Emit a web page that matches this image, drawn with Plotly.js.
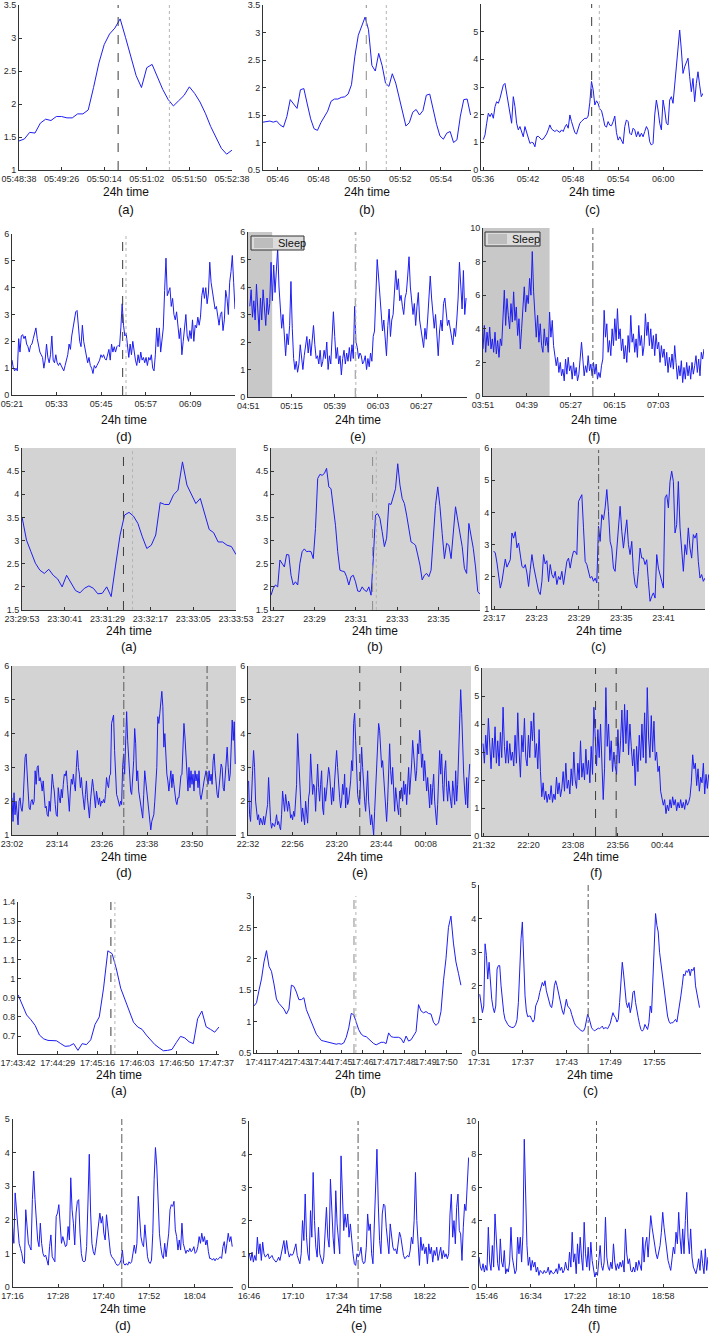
<!DOCTYPE html>
<html><head><meta charset="utf-8">
<script src="https://cdn.plot.ly/plotly-3.0.1.min.js"></script>
<style>html,body{margin:0;padding:0;background:#fff;}#chart{width:709px;height:1333px;}</style>
</head><body><div id="chart"></div>
<script>
// ---------------- DATA (times in minutes since midnight) ----------------
// Row 1
const r1a_ticks=['05:48:38','05:49:26','05:50:14','05:51:02','05:51:50','05:52:38'];
const r1a_range=[348.633,352.634];
const r1a_span=[348.6333,352.6333];
const r1a_events=[350.495,351.458];
const r1a_vals=[1.44,1.47,1.57,1.56,1.71,1.77,1.75,1.81,1.81,1.79,1.79,1.85,1.85,1.91,2.25,2.62,2.90,3.06,3.15,3.29,3.01,2.73,2.43,2.25,2.55,2.60,2.41,2.22,2.07,1.97,2.05,2.13,2.26,2.16,2.03,1.86,1.66,1.49,1.33,1.24,1.30];

const r1b_ticks=['05:46','05:48','05:50','05:52','05:54'];
const r1b_range=[345.28,355.47];
const r1b_span=[345.28,355.45];
const r1b_events=[350.34,351.32];
const r1b_vals=[1.37,1.38,1.39,1.37,1.39,1.32,1.28,1.47,1.78,1.70,1.62,1.96,1.98,1.70,1.43,1.25,1.22,1.36,1.47,1.57,1.75,1.79,1.79,1.82,1.83,1.88,2.05,2.57,2.95,3.12,3.28,3.05,2.40,2.30,2.62,2.40,2.08,2.02,2.25,2.08,1.83,1.58,1.30,1.36,1.55,1.60,1.50,1.58,1.86,1.88,1.60,1.33,1.12,1.06,1.17,1.20,1.00,1.05,1.48,1.78,1.79,1.50];

const r1c_ticks=['05:36','05:42','05:48','05:54','06:00'];
const r1c_range=[335.73,365.3];
const r1c_span=[336.04,365.3];
const r1c_events=[350.47,351.49];
const r1c_vals=[1.10,1.27,1.69,2.05,1.93,2.05,1.87,2.29,2.47,2.41,2.59,2.89,3.07,3.13,2.77,2.29,2.05,1.69,2.65,2.29,1.69,1.45,1.57,1.33,1.20,1.57,1.33,1.20,
0.96,1.00,0.98,0.84,1.20,1.22,1.14,1.10,1.12,1.20,1.30,1.45,1.63,1.48,1.42,1.39,1.44,1.40,1.36,1.45,1.39,1.55,1.65,1.51,1.99,1.75,1.57,1.35,1.30,1.51,1.69,1.76,1.83,1.87,1.86,1.95,2.45,3.20,2.90,2.35,2.50,2.40,2.20,2.15,1.90,1.60,1.55,1.75,1.62,1.60,1.75,1.95,1.35,1.08,1.20,1.10,0.95,1.57,1.81,1.75,1.33,1.27,1.51,1.45,1.20,1.39,1.20,1.33,1.20,1.39,1.57,1.45,1.02,0.90,0.96,1.99,2.53,2.17,1.69,1.45,2.53,2.17,1.69,1.63,2.53,2.65,2.41,3.07,3.73,4.22,5.06,4.34,3.49,3.73,3.92,4.04,3.37,2.83,3.31,2.47,3.13,3.55,3.07,2.65,2.77];

// Row 2
const r2d_ticks=['05:21','05:33','05:45','05:57','06:09'];
const r2d_range=[321,381.05];
const r2d_span=[321,381.05];
const r2d_events=[350.8,351.7];
const r2d_vals=[1.3,1.0,0.9,1.0,0.9,2.1,1.6,2.2,2.25,2.1,2.2,1.9,1.8,1.6,1.85,1.9,2.1,2.3,2.5,2.1,1.8,1.6,1.5,1.4,1.0,1.3,1.9,1.4,1.2,1.5,2.2,1.3,1.2,1.5,1.2,1.1,1.2,1.1,1.0,0.9,1.1,1.3,1.5,1.9,1.7,2.2,2.5,2.8,3.1,3.15,2.5,2.0,1.8,2.6,2.0,1.7,1.5,1.2,1.4,1.1,1.0,0.8,1.1,1.0,1.1,1.2,1.3,1.5,1.4,1.5,1.35,1.3,1.5,1.7,1.3,1.9,1.6,1.8,1.6,1.8,1.85,1.8,2.5,3.4,2.6,2.2,2.3,1.7,1.4,1.9,1.5,2.0,1.6,1.3,1.1,1.5,1.2,1.6,1.3,1.4,1.2,1.4,1.1,1.4,1.3,1.5,1.0,0.9,1.5,2.5,1.8,2.5,1.6,2.0,2.5,3.9,5.1,3.7,3.9,4.0,3.3,3.6,3.0,2.8,3.1,2.6,2.1,2.5,1.5,2.0,2.6,3.0,2.2,2.0,2.4,2.1,2.8,2.0,2.6,2.5,2.9,2.6,2.9,3.7,4.0,3.6,4.0,3.4,3.8,4.95,4.2,3.8,3.5,3.2,3.3,3.0,2.6,3.0,3.1,2.4,2.8,3.9,3.6,3.0,4.2,4.6,5.2,4.2,3.2];

const r2e_ticks=['04:51','05:15','05:39','06:03','06:27'];
const r2e_range=[290.9,412.4];
const r2e_span=[291.9,411.9];
const r2e_sleep=[290.9,304.3];
const r2e_events=[350.4,350.75];
const r2e_vals=[3.3,3.9,2.9,3.5,2.8,4.1,3.2,2.4,3.6,2.8,3.9,3.1,2.6,3.6,3.0,3.4,4.9,3.5,4.8,3.8,4.6,5.4,4.0,3.3,2.5,3.0,2.2,1.5,2.3,1.9,2.6,4.2,2.5,1.4,1.0,1.3,0.9,1.2,1.9,1.3,1.0,1.5,1.8,2.2,1.6,2.1,1.5,2.0,2.6,1.9,1.4,1.5,1.2,1.7,1.1,1.3,1.7,1.4,2.0,1.0,1.5,1.2,2.0,3.1,2.2,1.4,1.8,1.2,1.5,0.8,1.4,1.7,1.2,1.6,1.3,1.8,1.3,1.9,1.4,3.3,2.0,1.8,1.4,1.6,1.5,1.2,1.3,1.5,1.0,1.4,1.1,1.6,1.3,2.2,2.4,3.8,5.0,4.4,3.8,3.0,2.4,2.8,2.1,1.5,2.6,3.2,2.2,2.8,3.0,3.9,4.6,3.9,4.3,3.5,3.7,3.3,3.0,3.6,3.8,4.4,5.1,4.0,3.6,3.0,3.4,2.6,3.3,3.8,2.8,2.5,2.2,1.8,2.5,2.1,2.8,3.5,4.4,3.6,3.0,2.5,3.0,2.3,1.5,2.4,2.8,2.4,3.4,3.6,3.2,2.6,2.8,2.5,2.2,1.9,2.5,2.2,2.8,3.6,4.9,4.0,3.2,4.6,3.0,3.6];

const r2f_ticks=['03:51','04:39','05:27','06:15','07:03'];
const r2f_range=[231,473];
const r2f_span=[231,473];
const r2f_sleep=[231,303.9];
const r2f_events=[351.3];
const r2f_vals=[2.8,4.2,2.6,3.8,3.0,4.1,2.8,3.4,2.6,3.8,2.5,3.3,2.3,3.4,3.0,4.5,6.3,4.2,5.8,4.8,4.0,5.5,4.4,6.2,4.5,5.3,3.6,4.6,2.8,4.0,5.5,6.5,5.0,6.0,5.5,7.0,6.0,8.6,6.2,5.0,3.5,4.8,3.2,4.3,3.0,2.6,4.0,3.0,3.5,2.6,5.0,3.5,4.5,3.0,2.5,1.8,2.3,1.4,2.0,1.2,1.6,0.9,2.2,1.3,2.3,1.5,1.8,1.0,2.0,1.2,1.7,0.9,1.3,2.2,3.2,2.2,1.2,1.8,1.4,2.4,1.5,1.9,1.2,2.0,1.3,1.9,1.0,1.4,1.1,1.8,2.2,5.1,3.5,4.3,2.6,3.3,2.4,4.0,3.0,4.6,3.3,5.2,3.4,4.0,2.7,3.4,2.2,3.0,2.0,3.6,2.6,4.8,3.2,3.7,2.6,3.4,2.3,4.2,3.0,3.6,2.4,3.0,4.9,3.6,4.4,3.0,4.0,2.8,3.6,2.4,3.7,2.8,3.2,2.0,3.0,2.3,2.8,1.8,2.6,1.4,2.3,1.7,2.5,1.6,3.0,2.0,1.0,1.8,1.2,2.1,0.8,1.7,1.0,2.0,1.2,1.8,1.0,2.0,1.3,1.8,2.4,1.4,2.2,1.2,2.6,2.2,2.8];

// Row 3
const r3a_ticks=['23:29:53','23:30:41','23:31:29','23:32:17','23:33:05','23:33:53'];
const r3a_range=[1409.883,1413.884];
const r3a_span=[1409.8833,1413.8833];
const r3a_events=[1411.78,1411.95];
const r3a_vals=[3.51,3.01,2.76,2.51,2.36,2.29,2.38,2.25,2.17,2.00,2.25,2.08,1.92,1.87,1.97,2.02,1.97,1.85,1.86,2.00,1.79,2.47,3.12,3.55,3.61,3.53,3.37,3.08,2.83,2.90,3.12,3.82,3.78,3.78,3.99,4.09,4.70,4.20,3.98,3.80,3.91,3.55,3.24,3.17,2.97,2.97,2.90,2.87,2.70];

const r3b_ticks=['23:27','23:29','23:31','23:33','23:35'];
const r3b_range=[1406.9,1417.0];
const r3b_span=[1406.9,1417.0];
const r3b_events=[1411.81,1411.99];
const r3b_vals=[1.82,1.97,2.04,2.0,2.58,2.51,2.43,2.70,2.69,2.25,2.04,2.11,2.04,2.51,2.76,2.82,2.76,2.77,2.76,2.61,3.26,4.34,4.43,4.41,4.45,4.56,4.16,4.12,3.76,3.33,2.76,2.36,2.34,2.33,2.22,2.04,2.22,
2.25,2.11,1.91,1.90,2.0,1.93,1.90,2.0,1.82,2.61,3.55,3.58,3.48,3.19,2.87,3.05,3.80,3.78,3.98,4.12,4.66,4.20,3.91,3.80,3.55,3.26,2.97,2.94,2.90,2.69,2.47,2.15,2.25,2.29,2.22,2.36,3.12,3.76,4.16,3.73,3.15,2.61,2.94,2.90,2.61,3.23,3.73,3.44,3.19,2.87,2.40,2.29,3.37,3.12,2.83,2.43,1.90,1.84];

const r3c_ticks=['23:17','23:23','23:29','23:35','23:41'];
const r3c_range=[1396.67,1426.9];
const r3c_span=[1396.9,1426.9];
const r3c_events=[1411.8];
const r3c_vals=[2.80,2.74,2.43,1.96,1.65,1.86,2.22,2.55,2.30,2.40,2.53,3.36,3.20,3.40,2.90,3.05,2.69,
2.33,2.27,2.38,2.12,1.70,2.22,2.69,2.33,2.07,1.76,1.55,1.45,1.86,2.69,2.40,
2.50,1.85,2.38,2.07,1.96,2.17,1.76,2.01,1.91,2.17,1.76,2.07,2.48,2.58,2.27,2.58,2.79,2.79,2.69,4.34,4.45,4.55,3.52,2.48,2.38,2.17,1.96,2.01,1.86,1.96,1.81,3.57,3.10,3.93,3.77,4.14,4.71,4.03,3.10,2.89,2.27,2.17,2.79,3.41,4.19,3.41,2.89,3.36,3.77,3.00,2.69,3.10,2.17,1.76,1.65,2.17,2.89,2.58,2.58,2.38,2.53,1.86,1.24,1.39,1.50,1.34,2.69,2.27,2.01,1.86,1.65,4.45,4.55,4.14,4.96,5.28,4.96,3.36,3.62,4.96,3.52,2.89,2.17,3.00,2.69,3.52,2.89,2.58,3.31,3.20,3.36,2.48,1.96,2.07,1.86,1.96];

// Row 4
const r4d_ticks=['23:02','23:14','23:26','23:38','23:50'];
const r4d_range=[1382,1441.7];
const r4d_span=[1382,1441.5];
const r4d_events=[1411.8,1434.0];
const r4d_vals=[2.1,1.4,2.25,1.6,2.0,1.5,1.3,2.0,2.1,1.8,1.7,2.0,2.8,3.3,3.4,2.6,2.3,1.8,1.75,2.0,2.05,1.9,2.0,2.9,2.5,3.0,3.05,2.6,2.7,2.55,2.3,2.6,2.0,1.8,1.85,1.6,1.55,2.0,1.7,2.3,2.8,2.5,2.3,1.9,1.6,1.55,2.4,2.1,1.95,2.35,2.1,2.5,2.8,2.75,2.9,2.5,2.15,1.7,2.3,2.65,2.5,2.8,2.5,2.3,3.0,3.5,3.0,2.8,2.4,2.7,2.3,2.0,1.75,2.2,2.6,2.1,1.65,1.5,2.0,2.3,2.65,2.4,2.0,1.8,2.3,2.0,1.9,2.1,1.85,2.0,1.95,2.05,1.95,2.2,2.7,2.5,2.4,2.75,2.8,4.3,4.5,4.55,3.5,2.5,2.2,2.1,2.0,1.85,2.0,1.9,3.0,3.4,2.8,3.9,4.65,3.8,3.4,2.8,2.3,2.2,2.6,3.2,4.15,3.7,2.6,2.9,2.3,2.1,1.9,1.7,1.5,2.2,2.9,2.6,2.3,2.0,1.75,1.3,1.15,1.4,1.5,1.6,2.0,2.6,3.0,4.5,4.3,4.6,4.9,5.25,4.8,3.6,4.0,3.1,2.8,2.6,2.3,2.6,2.9,2.4,2.8,2.5,2.2,2.0,1.9,2.1,2.1,2.4,2.75,2.8,3.8,4.3,3.9,3.2,2.6,2.3,3.0,2.4,2.9,2.5,2.8,2.3,2.9,2.6,2.8,2.4,2.9,2.2,2.05,2.3,2.4,2.6,2.75,2.9,2.7,2.5,2.9,2.6,2.8,2.5,3.2,3.4,2.9,2.5,2.2,2.1,2.4,2.8,3.1,3.0,2.4,2.3,2.8,3.3,3.6,3.0,2.6,2.8,3.7,4.4,3.8,4.35,3.1];

const r4e_ticks=['22:32','22:56','23:20','23:44','00:08'];
const r4e_range=[1352,1472.5];
const r4e_span=[1352.3,1471.8];
const r4e_events=[1412.4,1434.5];
const r4e_vals=[2.6,1.6,1.4,2.4,2.9,3.5,3.0,2.0,1.6,1.45,1.6,1.3,1.5,1.35,1.3,1.55,1.3,1.5,1.65,1.9,2.7,2.0,1.4,1.2,1.35,1.3,1.25,1.4,1.6,1.3,1.4,1.25,1.15,1.6,2.3,2.0,1.7,2.2,1.9,1.7,2.0,1.85,1.5,1.6,1.45,1.7,1.55,1.9,2.5,4.0,3.2,2.4,2.0,1.4,1.8,1.5,1.3,2.0,1.6,1.35,2.1,2.3,3.4,2.8,2.2,2.5,2.4,1.7,2.6,3.1,2.4,2.0,2.5,2.9,1.8,1.6,2.4,2.0,2.3,2.6,3.0,2.8,2.2,1.9,2.4,2.0,2.6,3.0,3.5,3.0,2.4,2.1,1.8,2.0,2.5,2.2,2.8,1.8,2.4,1.9,2.0,2.3,2.6,3.2,2.9,4.3,4.6,3.8,2.8,2.2,2.0,
1.9,2.8,3.6,3.0,2.4,2.0,1.7,2.4,2.9,2.0,1.5,1.3,1.6,1.2,1.0,1.7,2.4,2.9,3.3,4.3,4.1,3.6,3.0,3.2,2.7,2.4,1.9,1.4,2.0,2.8,3.7,2.9,2.5,3.0,2.0,1.7,2.4,2.0,1.8,1.6,2.3,2.1,2.4,2.0,2.6,2.2,2.5,1.9,2.6,3.0,2.2,2.6,3.1,3.8,3.4,3.3,2.6,2.9,3.7,3.4,4.1,3.7,3.0,3.4,2.6,3.2,2.8,2.3,2.7,2.1,1.8,2.5,1.9,2.4,2.8,2.0,1.6,1.3,1.9,2.6,3.5,2.8,3.4,2.5,2.0,2.9,3.2,2.4,2.0,2.6,2.2,2.0,1.8,2.6,2.3,1.9,2.9,2.0,2.5,3.3,4.2,5.3,4.6,3.5,2.8,2.3,1.9,2.7,1.8,2.6,3.1];

const r4f_ticks=['21:32','22:20','23:08','23:56','00:44'];
const r4f_range=[1290,1534.3];
const r4f_span=[1291.1,1534];
const r4f_events=[1412.2,1434.4];
const r4f_vals=[3.3,2.6,3.6,2.9,4.2,3.0,2.4,3.5,2.8,3.9,2.6,3.4,2.5,3.7,2.8,4.6,3.2,2.6,3.4,2.6,3.3,2.7,3.0,2.5,3.6,2.6,4.4,3.0,2.1,3.6,3.0,4.2,2.8,2.5,3.6,2.8,4.1,3.4,4.4,2.8,3.3,2.4,3.8,2.3,1.4,1.9,1.3,1.6,1.2,1.5,1.3,1.8,1.2,1.5,1.3,2.1,1.5,1.9,1.4,1.7,2.3,1.6,2.6,1.7,2.0,1.5,2.4,1.8,3.0,2.0,1.7,2.6,2.0,3.4,2.1,2.6,2.0,3.1,2.2,2.7,1.9,3.2,2.2,4.6,3.4,2.5,3.8,2.8,4.0,2.6,1.3,2.4,5.3,3.2,4.0,2.7,3.4,2.3,3.0,2.5,2.2,3.8,2.6,3.4,4.5,3.0,4.7,3.3,4.5,2.9,4.0,3.2,2.5,3.1,1.8,3.2,2.3,3.6,2.7,4.0,2.8,4.4,2.6,5.3,3.5,2.8,4.3,3.0,4.1,2.7,3.0,2.3,2.5,1.6,1.4,1.1,1.3,0.8,1.1,0.9,1.3,1.0,1.4,1.1,1.3,0.9,1.2,1.0,1.3,1.0,1.2,0.95,1.3,1.1,1.2,1.4,1.9,2.9,2.4,2.6,1.8,2.4,1.6,2.1,1.9,2.6,1.5,2.2,1.7,2.2];

// Row 5
const r5a_ticks=['17:43:42','17:44:29','17:45:16','17:46:03','17:46:50','17:47:37'];
const r5a_range=[1063.699,1067.667];
const r5a_span=[1063.7,1067.667];
const r5a_events=[1065.533,1065.612];
const r5a_vals=[0.915,0.858,0.81,0.785,0.755,0.705,0.685,0.677,0.677,0.675,0.66,0.646,0.648,0.66,0.625,0.66,0.655,0.68,0.76,0.80,0.95,1.145,1.13,1.05,0.95,0.89,0.825,0.772,0.747,0.735,0.705,0.682,0.655,0.638,0.623,0.625,0.63,0.665,0.698,0.69,0.67,0.66,0.79,0.83,0.748,0.735,0.72,0.747];

const r5b_ticks=['17:41','17:42','17:43','17:44','17:45','17:46','17:47','17:48','17:49','17:50'];
const r5b_range=[1060.87,1070.73];
const r5b_span=[1060.87,1070.68];
const r5b_events=[1065.61,1065.7];
const r5b_vals=[1.25,1.30,1.5,1.68,1.95,2.13,1.88,1.80,1.6,1.36,1.29,1.25,1.2,1.12,1.2,1.58,1.56,1.47,1.35,1.35,1.38,1.19,1.09,0.99,0.89,0.80,0.75,0.70,0.69,0.68,0.68,0.66,0.65,0.64,0.65,0.64,0.66,0.75,0.90,1.13,1.11,0.99,0.87,0.80,0.77,0.76,0.72,0.68,0.65,0.63,0.65,0.67,0.67,0.65,0.82,0.76,0.75,0.745,0.75,0.73,0.66,0.77,0.69,0.71,0.77,0.84,1.27,1.17,1.14,1.16,1.13,1.12,0.99,0.94,0.98,1.16,1.65,2.0,2.5,2.68,2.25,1.95,1.77,1.58];

const r5c_ticks=['17:31','17:37','17:43','17:49','17:55'];
const r5c_range=[1051,1081.4];
const r5c_span=[1051.1,1081.2];
const r5c_events=[1065.95];
const r5c_vals=[1.75,1.5,1.2,1.4,3.25,2.9,2.2,2.7,2.0,1.6,1.35,1.2,1.4,2.5,2.6,2.6,2.0,1.5,1.2,1.0,0.9,0.85,0.8,0.77,0.76,0.76,0.78,0.85,1.0,1.5,2.6,3.4,3.9,
2.5,1.7,1.25,1.08,1.1,1.1,1.0,0.92,1.0,1.4,1.5,1.6,1.8,2.0,2.1,2.0,2.15,1.85,1.72,1.6,1.4,1.35,1.6,2.0,2.15,2.0,1.8,1.6,1.4,1.25,1.15,1.35,1.6,1.4,1.35,1.3,1.15,1.0,0.9,0.82,0.78,0.72,0.69,0.67,0.65,0.66,0.75,0.95,1.15,1.05,0.85,0.75,0.7,0.66,0.68,0.71,0.74,0.72,0.78,0.8,0.72,0.75,0.75,0.72,0.8,0.88,1.05,1.2,1.1,1.05,0.92,1.0,1.5,2.0,2.7,2.35,1.8,
1.5,1.35,1.5,1.2,1.4,1.8,1.85,1.5,1.2,1.05,0.85,0.7,0.65,0.7,0.85,0.75,0.7,0.9,1.4,1.2,2.1,3.3,4.15,
3.8,3.6,3.0,2.7,2.4,2.0,1.65,1.35,1.1,0.95,0.88,0.9,0.9,0.95,1.0,0.92,1.15,1.5,1.7,2.0,2.35,2.3,2.45,2.4,2.5,2.3,2.5,2.45,2.55,2.0,1.75,1.5,1.35];

// Row 6
const r6d_ticks=['17:16','17:28','17:40','17:52','18:04'];
const r6d_range=[1036,1094.1];
const r6d_span=[1036,1093.9];
const r6d_events=[1064.8];
const r6d_vals=[1.8,1.3,2.8,2.2,1.6,1.3,1.15,1.0,0.75,0.7,2.3,1.8,1.3,1.2,1.1,2.6,3.45,2.6,1.8,1.4,1.2,1.9,1.3,1.0,0.9,0.95,0.8,0.65,1.2,1.55,0.9,0.8,0.75,2.1,2.2,2.45,1.9,1.3,1.5,1.3,1.2,1.25,1.8,1.4,3.25,2.3,1.9,1.25,2.2,2.55,2.6,1.6,1.0,0.78,0.75,0.78,1.2,2.5,3.95,2.2,1.3,1.05,0.95,1.2,1.5,1.9,2.2,1.9,2.1,1.6,1.4,2.15,1.7,1.3,1.0,0.9,0.85,0.8,0.7,0.65,0.65,0.7,0.8,1.1,0.7,0.65,0.7,0.65,0.75,0.7,0.75,1.0,1.25,1.0,1.3,2.7,2.2,1.5,1.3,1.2,1.85,1.2,0.9,0.75,0.7,0.8,1.6,3.2,4.15,3.6,2.6,1.6,1.2,0.95,0.85,1.3,0.9,1.3,1.6,2.3,2.45,2.4,2.55,1.7,1.5,1.1,1.4,1.1,1.9,1.3,1.1,1.0,1.1,1.05,1.15,1.05,1.1,1.2,1.0,1.05,1.2,1.5,1.3,1.6,1.35,1.5,1.25,1.4,1.05,0.85,0.85,0.8,0.85,0.78,0.85,0.82,0.85,0.9,0.85,1.2,1.35,1.0,1.3,1.6,1.35,1.5,1.2];

const r6e_ticks=['16:46','17:10','17:34','17:58','18:22'];
const r6e_range=[1006,1126.2];
const r6e_span=[1006.2,1126];
const r6e_events=[1065.6];
const r6e_vals=[1.0,0.8,1.05,0.75,0.95,0.8,1.5,1.0,1.3,0.8,1.35,1.0,0.9,0.95,1.0,0.85,0.9,0.95,0.85,0.8,0.75,0.8,0.9,0.8,1.0,1.1,1.4,1.0,1.4,1.1,0.9,1.0,0.95,1.0,1.2,1.3,0.95,0.85,0.7,1.0,2.0,1.4,2.8,1.5,1.0,0.8,2.3,1.5,3.45,2.0,1.2,0.9,1.8,1.0,0.8,0.7,0.9,1.6,2.4,1.5,1.2,3.25,2.2,1.5,1.0,2.9,1.9,1.3,1.0,3.95,2.5,1.7,2.2,1.8,2.2,1.5,1.9,1.3,1.0,0.7,0.65,1.0,0.9,1.0,
1.2,0.8,0.7,0.75,1.2,2.2,1.7,1.9,1.0,0.7,1.8,3.0,4.15,2.5,1.4,1.0,2.2,2.5,2.45,1.8,1.3,1.0,1.9,1.5,1.2,1.1,1.15,1.0,1.45,1.65,1.5,1.2,0.95,0.85,0.9,0.95,0.9,1.1,1.5,1.3,2.0,3.45,2.0,1.4,0.65,1.5,1.1,1.3,1.0,1.2,0.7,1.3,1.0,1.2,0.75,1.1,0.95,1.2,0.8,1.0,1.2,0.85,1.1,0.9,1.0,0.85,1.0,2.2,2.8,1.5,2.0,1.3,2.4,2.8,1.7,1.6,0.8,1.8,2.5,2.3,3.0,3.9];

const r6f_ticks=['15:46','16:34','17:22','18:10','18:58'];
const r6f_range=[937.6,1186.8];
const r6f_span=[937.6,1186.8];
const r6f_events=[1065.5];
const r6f_vals=[1.8,1.2,1.0,1.4,0.9,1.3,1.0,3.6,1.5,1.0,2.5,1.2,4.4,2.4,1.4,1.0,2.9,1.5,1.2,2.2,0.8,1.1,0.9,1.5,3.6,1.8,1.2,0.8,1.0,3.0,2.0,3.0,1.5,3.2,8.9,4.5,2.5,1.3,1.8,1.0,1.6,1.2,1.5,0.9,1.2,0.7,1.0,0.9,0.8,1.0,0.85,0.9,1.2,0.75,1.0,0.85,0.8,0.9,1.1,0.8,1.4,1.0,1.2,0.85,1.0,1.5,1.1,1.0,2.1,1.2,3.3,1.5,2.0,0.8,2.6,1.4,3.0,1.8,1.0,3.9,2.0,1.2,2.4,1.0,2.7,1.6,1.0,0.6,0.9,0.7,1.6,2.5,1.3,1.0,1.5,4.2,1.8,1.2,1.0,1.5,1.1,2.6,1.5,1.0,1.4,1.1,1.5,1.2,1.6,0.9,3.5,2.0,1.4,1.7,1.0,0.9,1.2,0.9,1.5,1.0,1.6,1.2,1.0,3.0,1.5,2.6,3.0,1.8,3.3,4.3,3.6,3.0,2.4,2.0,1.7,2.2,2.5,3.3,4.5,3.6,2.8,2.3,1.6,1.3,1.0,1.7,2.4,2.0,3.3,2.6,4.5,3.0,2.0,3.5,2.0,4.0,5.7,3.0,2.0,3.5,1.8,1.2,1.0,0.8,1.2,1.7,1.0,2.2,1.4,0.8,2.3,1.0,1.8];

// ---------------- LAYOUT / STYLE ----------------
const W=709,H=1333;
const FONT='"Liberation Sans", Arial, Helvetica, sans-serif';
const TXT='#2a2a2a';
const EV={dk:{color:'#3c3c3c',dash:'dash'},lt:{color:'#b4b4b4',dash:'dot'},gd:{color:'#8c8c8c',dash:'dash'},dd:{color:'#5a5a5a',dash:'dashdot'}};
function tmin(s,base){const p=s.split(':').map(Number);let m=p[0]*60+p[1]+(p.length>2?p[2]/60:0);if(base!==undefined&&m<base-600)m+=1440;return m;}

const panels=[
 {v:r1a_vals,s:r1a_span,r:r1a_range,t:r1a_ticks,e:r1a_events,es:['dk','lt'],yr:[1,3.5],dy:0.5,box:[19,232,5,170],lab:'(a)',row:0},
 {v:r1b_vals,s:r1b_span,r:r1b_range,t:r1b_ticks,e:r1b_events,es:['gd','lt'],yr:[0.5,3.5],dy:0.5,box:[263,471,5,170],lab:'(b)',row:0},
 {v:r1c_vals,s:r1c_span,r:r1c_range,t:r1c_ticks,e:r1c_events,es:['dk','lt'],yr:[0,6],dy:1,box:[481,703,4,170],lab:'(c)',row:0},
 {v:r2d_vals,s:r2d_span,r:r2d_range,t:r2d_ticks,e:r2d_events,es:['dk','lt'],yr:[0,6],dy:1,box:[12,235,234,395],lab:'(d)',row:1},
 {v:r2e_vals,s:r2e_span,r:r2e_range,t:r2e_ticks,e:r2e_events,es:['gd','lt'],yr:[0,6],dy:1,box:[248,467,232,397],lab:'(e)',row:1,sleep:r2e_sleep,leg:[251,304,236,250]},
 {v:r2f_vals,s:r2f_span,r:r2f_range,t:r2f_ticks,e:r2f_events,es:['dd'],yr:[0,10],dy:2,box:[483,704,228,396],lab:'(f)',row:1,sleep:r2f_sleep,leg:[485,540,232,246]},
 {v:r3a_vals,s:r3a_span,r:r3a_range,t:r3a_ticks,e:r3a_events,es:['dk','lt'],yr:[1.5,5],dy:0.5,box:[22,236,448,610],lab:'(a)',row:2,bg:true},
 {v:r3b_vals,s:r3b_span,r:r3b_range,t:r3b_ticks,e:r3b_events,es:['gd','lt'],yr:[1.5,5],dy:0.5,box:[271,480,448,610],lab:'(b)',row:2,bg:true},
 {v:r3c_vals,s:r3c_span,r:r3c_range,t:r3c_ticks,e:r3c_events,es:['dd'],yr:[1,6],dy:1,box:[492,705,448,609],lab:'(c)',row:2,bg:true},
 {v:r4d_vals,s:r4d_span,r:r4d_range,t:r4d_ticks,e:r4d_events,es:['dd','dd'],yr:[1,6],dy:1,box:[12,236,666,835],lab:'(d)',row:3,bg:true},
 {v:r4e_vals,s:r4e_span,r:r4e_range,t:r4e_ticks,e:r4e_events,es:['dk','dk'],yr:[1,6],dy:1,box:[248,471,666,835],lab:'(e)',row:3,bg:true},
 {v:r4f_vals,s:r4f_span,r:r4f_range,t:r4f_ticks,e:r4f_events,es:['dk','dk'],yr:[0,6],dy:1,box:[482,709,668,836],lab:'(f)',row:3,bg:true},
 {v:r5a_vals,s:r5a_span,r:r5a_range,t:r5a_ticks,e:r5a_events,es:['dk','lt'],yr:[0.606,1.4],y0:0.7,dy:0.1,box:[18,219,902,1054],lab:'(a)',row:4},
 {v:r5b_vals,s:r5b_span,r:r5b_range,t:r5b_ticks,e:r5b_events,es:['gd','lt'],yr:[0.5,3],dy:0.5,box:[254,462,896,1053],lab:'(b)',row:4},
 {v:r5c_vals,s:r5c_span,r:r5c_range,t:r5c_ticks,e:r5c_events,es:['dd'],yr:[0,5],dy:1,box:[479,701,885,1053],lab:'(c)',row:4},
 {v:r6d_vals,s:r6d_span,r:r6d_range,t:r6d_ticks,e:r6d_events,es:['dd'],yr:[0,5],dy:1,box:[12.5,233,1119,1287],lab:'(d)',row:5},
 {v:r6e_vals,s:r6e_span,r:r6e_range,t:r6e_ticks,e:r6e_events,es:['dd'],yr:[0,5],dy:1,box:[249,469,1121,1287],lab:'(e)',row:5},
 {v:r6f_vals,s:r6f_span,r:r6f_range,t:r6f_ticks,e:r6f_events,es:['dd'],yr:[0,10],dy:2,box:[479,708,1121,1287],lab:'(f)',row:5}
];
const rowText=[{t:192,l:209},{t:420,l:436},{t:631,l:646},{t:857,l:872},{t:1075,l:1090},{t:1309,l:1325}];

const data=[];
const layout={width:W,height:H,margin:{l:0,r:0,t:0,b:0},paper_bgcolor:'#ffffff',plot_bgcolor:'rgba(0,0,0,0)',
  showlegend:false,font:{family:FONT,color:TXT},shapes:[],annotations:[]};
const axBase={ticks:'inside',ticklen:3,tickwidth:1,tickcolor:'#333',showline:true,linecolor:'#333',linewidth:1,
  showgrid:false,zeroline:false,fixedrange:true,tickfont:{family:FONT,size:9,color:TXT}};

panels.forEach((p,k)=>{
  const i=k+1, sf=i===1?'':String(i);
  const n=p.v.length;
  const xs=p.v.map((_,j)=>p.s[0]+j*(p.s[1]-p.s[0])/(n-1));
  data.push({type:'scatter',mode:'lines',x:xs,y:p.v,xaxis:'x'+sf,yaxis:'y'+sf,
    line:{color:'#1e1ef2',width:1},hoverinfo:'skip'});
  const [l,r,t,b]=p.box;
  const tv=p.t.map(s=>tmin(s,p.r[0]));
  const eps=(p.r[1]-p.r[0])*1e-4;
  layout['xaxis'+sf]=Object.assign({},axBase,{domain:[l/W,r/W],range:[p.r[0]-eps,p.r[1]+eps],anchor:'y'+sf,
    tickmode:'array',tickvals:tv,ticktext:p.t,tickangle:0});
  const y0=p.y0!==undefined?p.y0:p.yr[0];
  const yv=[];for(let j=0;y0+j*p.dy<=p.yr[1]+1e-9;j++)yv.push(+(y0+j*p.dy).toFixed(3));
  layout['yaxis'+sf]=Object.assign({},axBase,{domain:[1-b/H,1-t/H],range:[p.yr[0]-1e-6,p.yr[1]+1e-6],anchor:'x'+sf,
    tickmode:'array',tickvals:yv,ticktext:yv.map(v=>String(v))});
  const xd=(i===1?'x':'x'+i)+' domain', yd=(i===1?'y':'y'+i)+' domain';
  if(p.bg) layout.shapes.push({type:'rect',xref:xd,yref:yd,x0:0,x1:1,y0:0,y1:1,fillcolor:'#d3d3d3',line:{width:0},layer:'below'});
  if(p.sleep) layout.shapes.push({type:'rect',xref:'x'+sf,yref:yd,x0:p.sleep[0],x1:p.sleep[1],y0:0,y1:1,fillcolor:'#c8c8c8',line:{width:0},layer:'below'});
  p.e.forEach((ev,j)=>{const st=EV[p.es[j]];
    layout.shapes.push({type:'line',xref:'x'+sf,yref:yd,x0:ev,x1:ev,y0:0,y1:1,line:{color:st.color,width:1,dash:st.dash}});});
  if(p.leg){const [a,c,d,e2]=p.leg;
    layout.shapes.push({type:'rect',xref:'paper',yref:'paper',x0:a/W,x1:c/W,y0:1-e2/H,y1:1-d/H,fillcolor:'#dcdcdc',line:{color:'#333',width:1}});
    layout.shapes.push({type:'rect',xref:'paper',yref:'paper',x0:(a+3)/W,x1:(a+22)/W,y0:1-(e2-2)/H,y1:1-(d+2)/H,fillcolor:'#bdbdbd',line:{width:0}});
    layout.annotations.push({xref:'paper',yref:'paper',x:(a+25)/W,y:1-((d+e2)/2)/H,text:'Sleep',showarrow:false,xanchor:'left',yanchor:'middle',font:{family:FONT,size:11,color:'#111'}});
  }
  const cx=((l+r)/2)/W, rt=rowText[p.row];
  layout.annotations.push({xref:'paper',yref:'paper',x:cx,y:1-rt.t/H,text:'24h time',showarrow:false,xanchor:'center',yanchor:'middle',font:{family:FONT,size:12,color:'#111'}});
  layout.annotations.push({xref:'paper',yref:'paper',x:cx,y:1-rt.l/H,text:p.lab,showarrow:false,xanchor:'center',yanchor:'middle',font:{family:FONT,size:13,color:'#111'}});
});

Plotly.newPlot('chart',data,layout,{staticPlot:true,displayModeBar:false});
</script></body></html>
